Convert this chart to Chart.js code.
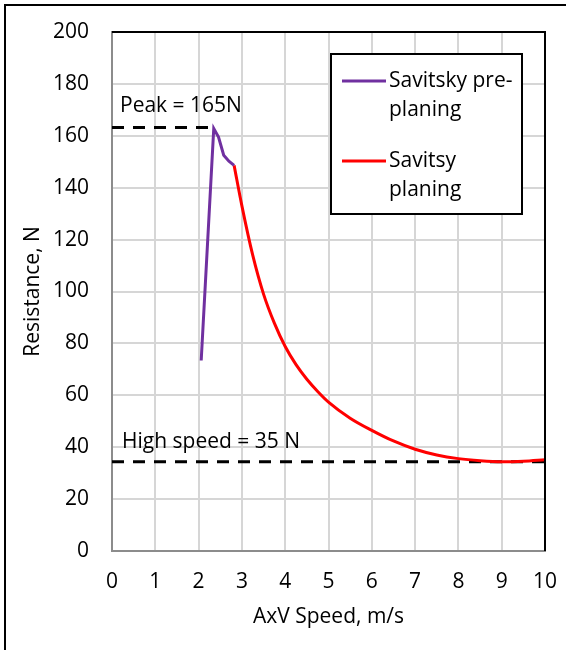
<!DOCTYPE html>
<html>
<head>
<meta charset="utf-8">
<script src="https://cdn.jsdelivr.net/npm/chart.js@4"></script>
<style>
  html, body { margin: 0; padding: 0; background: #fff; }
  canvas { display: block; }
</style>
</head>
<body>
<canvas id="resistance-chart" width="566" height="650"></canvas>
<script>
// speed (m/s) and resistance (N)
const preSpeed = [2.06, 2.35, 2.46, 2.58, 2.70, 2.82];
const preResistance = [73.4, 162.8, 159.5, 152.5, 150.2, 148.6];

const planSpeed = [2.82, 3.0, 3.25, 3.5, 3.75, 4.0, 4.25, 4.5, 4.75, 5.0, 5.5, 6.0, 6.5, 7.0, 7.5, 8.0, 8.5, 9.0, 9.5, 10.0];
const planResistance = [148.6, 133, 114, 99, 87.8, 78.8, 71.8, 66.2, 61.5, 57.4, 51.2, 46.5, 42.4, 39.2, 37.0, 35.6, 34.8, 34.4, 34.6, 35.2];

const peakLineX = [0, 2.32];
const peakLineY = [163.2, 163.2];
const highLineX = [0, 10];
const highLineY = [34.4, 34.4];

const xTicks = [0, 1, 2, 3, 4, 5, 6, 7, 8, 9, 10];
const yTicks = [0, 20, 40, 60, 80, 100, 120, 140, 160, 180, 200];

const legendLabels = [["Savitsky pre-", "planing"], ["Savitsy", "planing"]];
const peakText = "Peak = 165N";
const highText = "High speed = 35 N";

const FONT = "'Open Sans'";
const SIZE = 21;
const toPoints = (xs, ys) => xs.map((x, i) => ({ x: x, y: ys[i] }));

// draws the outer frame, plot frame, legend box and text notes
const decorations = {
  id: "decorations",
  beforeDraw(chart) {
    const ctx = chart.ctx;
    ctx.save();
    ctx.fillStyle = "#fff";
    ctx.fillRect(0, 0, chart.width, chart.height);
    ctx.restore();
  },
  afterDraw(chart) {
    const ctx = chart.ctx;
    const area = chart.chartArea;
    const xs = chart.scales.x;
    const ys = chart.scales.y;
    ctx.save();

    // outer frame (left and top only)
    ctx.strokeStyle = "#000";
    ctx.lineWidth = 2;
    ctx.beginPath();
    ctx.moveTo(5, chart.height);
    ctx.lineTo(5, 5);
    ctx.lineTo(chart.width, 5);
    ctx.stroke();

    // top and right of plot
    ctx.beginPath();
    ctx.moveTo(area.left, area.top);
    ctx.lineTo(area.right, area.top);
    ctx.lineTo(area.right, area.bottom);
    ctx.stroke();

    // notes
    ctx.fillStyle = "#000";
    ctx.font = SIZE + "px " + FONT;
    ctx.textBaseline = "middle";
    ctx.textAlign = "left";
    ctx.fillText(peakText, xs.getPixelForValue(0) + 8, ys.getPixelForValue(peakLineY[0]) - 21);
    ctx.fillText(highText, xs.getPixelForValue(0) + 10, ys.getPixelForValue(highLineY[0]) - 20);

    // legend
    const box = { left: 331, top: 54, right: 522, bottom: 214 };
    ctx.fillStyle = "#fff";
    ctx.fillRect(box.left, box.top, box.right - box.left, box.bottom - box.top);
    ctx.strokeStyle = "#000";
    ctx.lineWidth = 2;
    ctx.strokeRect(box.left, box.top, box.right - box.left, box.bottom - box.top);
    chart.data.datasets.slice(0, 2).forEach((ds, i) => {
      const y0 = box.top + 27 + i * 80;
      ctx.strokeStyle = ds.borderColor;
      ctx.lineWidth = 3;
      ctx.beginPath();
      ctx.moveTo(342, y0);
      ctx.lineTo(386, y0);
      ctx.stroke();
      ctx.fillStyle = "#000";
      legendLabels[i].forEach((line, j) => ctx.fillText(line, 389, y0 + j * 29.5));
    });
    ctx.restore();
  }
};

const config = {
  type: "line",
  data: {
    datasets: [
      {
        label: legendLabels[0].join(""),
        data: toPoints(preSpeed, preResistance),
        borderColor: "#7030A0",
        borderWidth: 3,
        pointRadius: 0,
        tension: 0
      },
      {
        label: legendLabels[1].join(" "),
        data: toPoints(planSpeed, planResistance),
        borderColor: "#FF0000",
        borderWidth: 3,
        pointRadius: 0,
        cubicInterpolationMode: "monotone"
      },
      {
        label: "peak",
        data: toPoints(peakLineX, peakLineY),
        borderColor: "#000",
        borderWidth: 3,
        borderDash: [12, 9],
        pointRadius: 0
      },
      {
        label: "high",
        data: toPoints(highLineX, highLineY),
        borderColor: "#000",
        borderWidth: 3,
        borderDash: [12, 9],
        pointRadius: 0
      }
    ]
  },
  options: {
    responsive: false,
    animation: false,
    layout: { padding: { top: 32, right: 21, left: 0, bottom: 0 } },
    plugins: {
      legend: { display: false },
      tooltip: { enabled: false }
    },
    scales: {
      x: {
        type: "linear",
        min: 0,
        max: 10,
        afterBuildTicks: (scale) => { scale.ticks = xTicks.map(v => ({ value: v })); },
        afterFit: (scale) => { scale.height = 99; scale.paddingLeft = 0; scale.paddingRight = 0; },
        grid: { color: "#d6d6d6", lineWidth: 2, drawTicks: false },
        border: { color: "#8c8c8c", width: 2 },
        ticks: { padding: 18, color: "#000", font: { family: FONT, size: SIZE }, maxRotation: 0 },
        title: {
          display: true,
          text: "AxV Speed, m/s",
          color: "#000",
          font: { family: FONT, size: SIZE },
          padding: { top: 0, bottom: 20 }
        }
      },
      y: {
        min: 0,
        max: 200,
        afterBuildTicks: (scale) => { scale.ticks = yTicks.map(v => ({ value: v })); },
        afterFit: (scale) => { scale.width = 112; scale.paddingTop = 0; scale.paddingBottom = 0; },
        grid: { color: "#d6d6d6", lineWidth: 2, drawTicks: false },
        border: { color: "#8c8c8c", width: 2 },
        ticks: { padding: 23, color: "#000", font: { family: FONT, size: SIZE } },
        title: {
          display: true,
          text: "Resistance, N",
          color: "#000",
          font: { family: FONT, size: SIZE },
          padding: { top: 20, bottom: 0 }
        }
      }
    }
  },
  plugins: [decorations]
};

new Chart(document.getElementById("resistance-chart").getContext("2d"), config);
</script>
</body>
</html>
